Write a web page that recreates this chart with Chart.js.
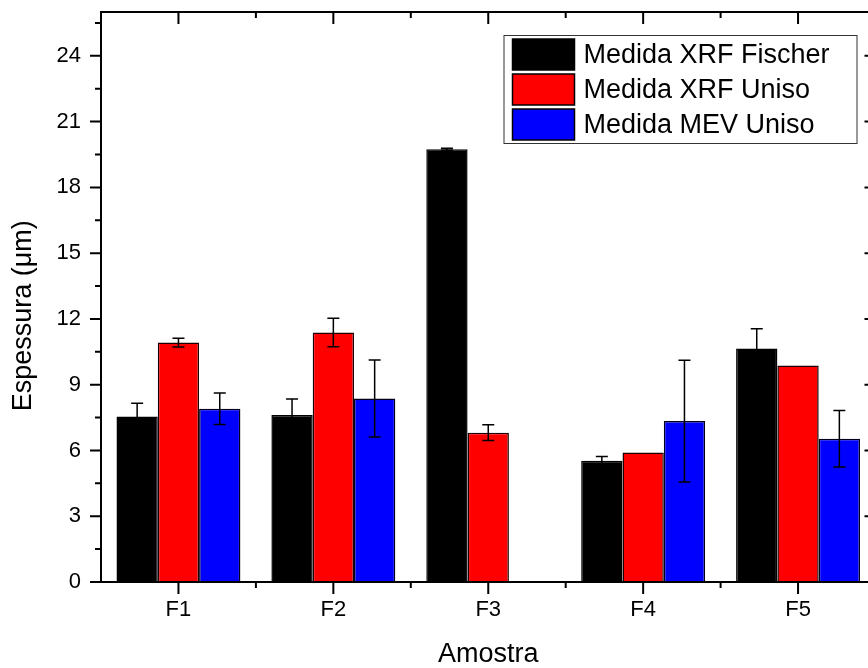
<!DOCTYPE html>
<html>
<head>
<meta charset="utf-8">
<script src="https://cdn.jsdelivr.net/npm/chart.js@4/dist/chart.umd.min.js"></script>
<style>
  html, body { margin: 0; padding: 0; overflow: hidden; background: #fff; }
  #wrap { width: 880px; height: 668px; }
</style>
</head>
<body>
<div id="wrap"><canvas id="bar-chart-canvas" width="880" height="668"></canvas></div>
<script>
const samples = ['F1', 'F2', 'F3', 'F4', 'F5'];
const seriesNames = ['Medida XRF Fischer', 'Medida XRF Uniso', 'Medida MEV Uniso'];

const xrfFischer = [7.55, 7.62, 19.74, 5.53, 10.65];
const xrfUniso = [10.92, 11.38, 6.81, 5.91, 9.87];
const mevUniso = [7.90, 8.37, null, 7.34, 6.53];

const xrfFischerErr = [0.6, 0.73, 0.05, 0.2, 0.9];
const xrfUnisoErr = [0.2, 0.65, 0.36, 0, 0];
const mevUnisoErr = [0.72, 1.76, 0, 2.78, 1.29];

const yTicks = [0, 3, 6, 9, 12, 15, 18, 21, 24];
const fontFamily = 'Arial, "Liberation Sans", sans-serif';

// error bars, frame and Origin-style ticks
const framePlugin = {
    id: 'frame',
    afterDatasetsDraw(chart) {
        const ctx = chart.ctx;
        const x = chart.scales.x;
        const y = chart.scales.y;
        const area = chart.chartArea;

        ctx.save();
        ctx.strokeStyle = '#000';
        ctx.lineWidth = 1.5;
        chart.data.datasets.forEach((ds, i) => {
            const meta = chart.getDatasetMeta(i);
            meta.data.forEach((bar, j) => {
                const v = ds.data[j];
                const e = ds.errors[j];
                if (v === null || !e) return;
                const top = y.getPixelForValue(v + e);
                const bot = y.getPixelForValue(v - e);
                ctx.beginPath();
                ctx.moveTo(bar.x, top);
                ctx.lineTo(bar.x, bot);
                ctx.moveTo(bar.x - 6, top);
                ctx.lineTo(bar.x + 6, top);
                ctx.moveTo(bar.x - 6, bot);
                ctx.lineTo(bar.x + 6, bot);
                ctx.stroke();
            });
        });

        ctx.lineWidth = 2;
        ctx.strokeRect(area.left, area.top, area.right - area.left, area.bottom - area.top);

        ctx.beginPath();
        samples.forEach((s, k) => {
            const px = x.getPixelForValue(k);
            ctx.moveTo(px, area.bottom);
            ctx.lineTo(px, area.bottom + 12);
            ctx.moveTo(px, area.top);
            ctx.lineTo(px, area.top + 12);
            if (k < samples.length - 1) {
                const mx = (px + x.getPixelForValue(k + 1)) / 2;
                ctx.moveTo(mx, area.bottom);
                ctx.lineTo(mx, area.bottom + 6);
                ctx.moveTo(mx, area.top);
                ctx.lineTo(mx, area.top + 6);
            }
        });
        for (let v = 0; v <= y.max; v += 1.5) {
            const py = y.getPixelForValue(v);
            const len = v % 3 === 0 ? 11 : 6;
            ctx.moveTo(area.left - len, py);
            ctx.lineTo(area.left, py);
            ctx.moveTo(area.right - len, py);
            ctx.lineTo(area.right, py);
        }
        ctx.stroke();
        ctx.restore();
    },
    afterDraw(chart) {
        const ctx = chart.ctx;
        const area = chart.chartArea;
        const left = area.right - 372;
        const top = area.top + 23;
        ctx.save();
        ctx.strokeStyle = '#333';
        ctx.lineWidth = 1;
        ctx.strokeRect(left + 0.5, top + 0.5, 353, 108);
        ctx.font = '27px ' + fontFamily;
        ctx.textBaseline = 'middle';
        chart.data.datasets.forEach((ds, i) => {
            const ry = top + 4 + i * 35;
            ctx.fillStyle = ds.backgroundColor;
            ctx.fillRect(left + 9, ry, 62, 31);
            ctx.strokeStyle = '#000';
            ctx.lineWidth = 1.5;
            ctx.strokeRect(left + 9, ry, 62, 31);
            ctx.fillStyle = '#000';
            ctx.fillText(ds.label, left + 80, ry + 17);
        });
        ctx.restore();
    }
};

const barChartContext = document.getElementById('bar-chart-canvas').getContext('2d');

const barChart = new Chart(barChartContext, {
    type: 'bar',
    data: {
        labels: samples,
        datasets: [{
            label: seriesNames[0],
            data: xrfFischer,
            errors: xrfFischerErr,
            backgroundColor: '#000000',
            borderColor: '#000000'
        }, {
            label: seriesNames[1],
            data: xrfUniso,
            errors: xrfUnisoErr,
            backgroundColor: '#ff0000',
            borderColor: '#1a0000'
        }, {
            label: seriesNames[2],
            data: mevUniso,
            errors: mevUnisoErr,
            backgroundColor: '#0000ff',
            borderColor: '#00001a'
        }]
    },
    options: {
        responsive: false,
        animation: false,
        layout: { padding: { top: 12, right: 4.5, left: 0, bottom: 0 } },
        datasets: {
            bar: { categoryPercentage: 0.8, barPercentage: 1.0, borderWidth: 1.5 }
        },
        plugins: {
            legend: { display: false },
            tooltip: { enabled: false }
        },
        scales: {
            x: {
                grid: { display: false, drawTicks: false },
                border: { display: false },
                ticks: { color: '#000', padding: 15, font: { size: 22, family: fontFamily } },
                title: {
                    display: true,
                    text: 'Amostra',
                    color: '#000',
                    font: { size: 27, family: fontFamily, lineHeight: 1 },
                    padding: { top: 0, bottom: 0 }
                },
                afterFit: s => {
                    s.height = 86;
                    s.paddingLeft = 0;
                    s.paddingRight = 0;
                }
            },
            y: {
                min: 0,
                max: 26,
                grid: { display: false, drawTicks: false },
                border: { display: false },
                afterBuildTicks: s => { s.ticks = yTicks.map(v => ({ value: v })); },
                ticks: { color: '#000', padding: 20, font: { size: 22, family: fontFamily } },
                title: {
                    display: true,
                    text: 'Espessura (\u03bcm)     ',
                    color: '#000',
                    font: { size: 27, family: fontFamily },
                    padding: { top: 7, bottom: 0 }
                },
                afterFit: s => {
                    s.width = 101;
                    s.paddingTop = 0;
                    s.paddingBottom = 0;
                }
            }
        }
    },
    plugins: [framePlugin]
});
</script>
</body>
</html>
